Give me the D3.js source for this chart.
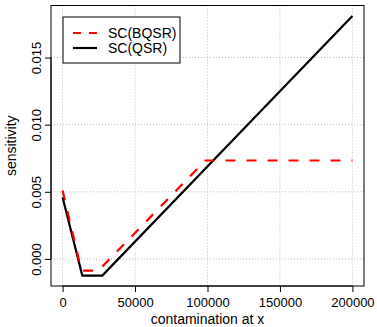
<!DOCTYPE html>
<html>
<head>
<meta charset="utf-8">
<script src="https://cdn.jsdelivr.net/npm/d3@7"></script>
<style>
  body { margin: 0; background: #fff; }
  text { font-family: "Liberation Sans", Arial, sans-serif; }
</style>
</head>
<body>
<svg id="chart" width="377" height="327"></svg>
<script>
// values
const bqsrX = [0, 13000, 24700, 98500, 200000];
const bqsrY = [0.0051, -0.00087, -0.00087, 0.00733, 0.00733];
const qsrX = [0, 13600, 27400, 200000];
const qsrY = [0.0046, -0.00124, -0.00124, 0.0181];
const xTicks = [0, 50000, 100000, 150000, 200000];
const yTicks = [0, 0.005, 0.010, 0.015];
const seriesNames = ["SC(BQSR)", "SC(QSR)"];

const svg = d3.select("#chart");
const pLeft = 51, pRight = 364, pTop = 5.5, pBottom = 286;
const font = "Liberation Sans, Arial, sans-serif";

// R style 4% padding on both axes
let x = d3.scaleLinear().domain([-8000, 208000]).range([pLeft, pRight]);
let yMin = d3.min(qsrY.concat(bqsrY)), yMax = d3.max(qsrY.concat(bqsrY));
let yPad = 0.04 * (yMax - yMin);
let y = d3.scaleLinear().domain([yMin - yPad, yMax + yPad]).range([pBottom, pTop]);

// grid
svg.append("g").selectAll("line").data(xTicks).enter().append("line")
   .attr("x1", d => x(d)).attr("x2", d => x(d))
   .attr("y1", pTop).attr("y2", pBottom)
   .attr("stroke", "#bdbdbd").attr("stroke-dasharray", "1,2");
svg.append("g").selectAll("line").data(yTicks).enter().append("line")
   .attr("y1", d => y(d)).attr("y2", d => y(d))
   .attr("x1", pLeft).attr("x2", pRight)
   .attr("stroke", "#bdbdbd").attr("stroke-dasharray", "1,2");

// lines
let line = d3.line().x(d => x(d[0])).y(d => y(d[1]));
svg.append("path")
   .datum(d3.zip(qsrX, qsrY))
   .attr("d", line)
   .attr("fill", "none").attr("stroke", "#000").attr("stroke-width", 2.2);
svg.append("path")
   .datum(d3.zip(bqsrX, bqsrY))
   .attr("d", line)
   .attr("fill", "none").attr("stroke", "#ff0000").attr("stroke-width", 2.2)
   .attr("stroke-dasharray", "10,11");

// box
svg.append("rect")
   .attr("x", pLeft).attr("y", pTop)
   .attr("width", pRight - pLeft).attr("height", pBottom - pTop)
   .attr("fill", "none").attr("stroke", "#000").attr("stroke-width", 1);

// axes
let xAxis = svg.append("g")
   .attr("transform", `translate(0,${pBottom})`)
   .call(d3.axisBottom(x).tickValues(xTicks).tickSize(6).tickSizeOuter(0).tickPadding(6).tickFormat(d3.format("d")));
xAxis.select(".domain").attr("d", `M${x(xTicks[0])},0H${x(xTicks[xTicks.length - 1])}`);
xAxis.selectAll("text").attr("font-size", 13).attr("fill", "#000").attr("font-family", font);

let yAxis = svg.append("g")
   .attr("transform", `translate(${pLeft},0)`)
   .call(d3.axisLeft(y).tickValues(yTicks).tickSize(6).tickSizeOuter(0).tickFormat(d3.format(".3f")));
yAxis.select(".domain").attr("d", `M0,${y(yTicks[0])}V${y(yTicks[yTicks.length - 1])}`);
yAxis.selectAll("text")
   .attr("font-size", 13).attr("fill", "#000").attr("font-family", font)
   .attr("text-anchor", "middle").attr("x", 0).attr("dy", 0)
   .attr("transform", "translate(-10,0) rotate(-90)");

// axis titles
svg.append("text")
   .attr("x", (pLeft + pRight) / 2).attr("y", 324)
   .attr("text-anchor", "middle").attr("font-size", 14)
   .text("contamination at x");
svg.append("text")
   .attr("transform", `translate(16,${(pTop + pBottom) / 2}) rotate(-90)`)
   .attr("text-anchor", "middle").attr("font-size", 14)
   .text("sensitivity");

// legend
let lg = svg.append("g");
lg.append("rect")
   .attr("x", 63).attr("y", 17).attr("width", 117).attr("height", 46)
   .attr("fill", "#fff").attr("stroke", "#000");
let styles = [{c: "#ff0000", dash: "8,8"}, {c: "#000", dash: null}];
seriesNames.forEach((name, i) => {
   let yy = 33 + i * 15;
   lg.append("line")
     .attr("x1", 73).attr("x2", 97).attr("y1", yy).attr("y2", yy)
     .attr("stroke", styles[i].c).attr("stroke-width", 2.2)
     .attr("stroke-dasharray", styles[i].dash);
   lg.append("text")
     .attr("x", 108).attr("y", yy + 5).attr("font-size", 14)
     .text(name);
});
</script>
</body>
</html>
